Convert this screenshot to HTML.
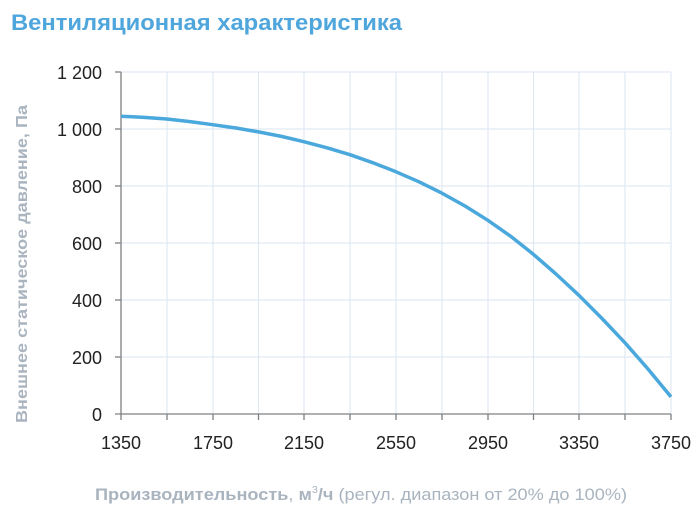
<!DOCTYPE html>
<html><head><meta charset="utf-8"><style>
body{margin:0;background:#fff;width:700px;height:527px;overflow:hidden}
svg{display:block}
</style></head><body>
<svg width="700" height="527" xmlns="http://www.w3.org/2000/svg" font-family="Liberation Sans, DejaVu Sans, sans-serif">
<text x="11" y="30" font-size="22" font-weight="bold" fill="#4ea6dc" textLength="391" lengthAdjust="spacingAndGlyphs">Вентиляционная характеристика</text>
<g stroke="#dbe6f0" stroke-width="1">
<line x1="121" y1="72" x2="671" y2="72"/><line x1="121" y1="129" x2="671" y2="129"/><line x1="121" y1="186" x2="671" y2="186"/><line x1="121" y1="243" x2="671" y2="243"/><line x1="121" y1="300" x2="671" y2="300"/><line x1="121" y1="357" x2="671" y2="357"/>
<line x1="167" y1="72" x2="167" y2="414"/><line x1="213" y1="72" x2="213" y2="414"/><line x1="258.5" y1="72" x2="258.5" y2="414"/><line x1="304" y1="72" x2="304" y2="414"/><line x1="350" y1="72" x2="350" y2="414"/><line x1="396" y1="72" x2="396" y2="414"/><line x1="442" y1="72" x2="442" y2="414"/><line x1="488" y1="72" x2="488" y2="414"/><line x1="533.5" y1="72" x2="533.5" y2="414"/><line x1="579" y1="72" x2="579" y2="414"/><line x1="625" y1="72" x2="625" y2="414"/><line x1="671" y1="72" x2="671" y2="414"/>
</g>
<g stroke="#808080" stroke-width="1.3">
<line x1="121" y1="72" x2="121" y2="414"/><line x1="115" y1="414" x2="671" y2="414"/>
<line x1="115" y1="72" x2="121" y2="72"/><line x1="115" y1="129" x2="121" y2="129"/><line x1="115" y1="186" x2="121" y2="186"/><line x1="115" y1="243" x2="121" y2="243"/><line x1="115" y1="300" x2="121" y2="300"/><line x1="115" y1="357" x2="121" y2="357"/>
<line x1="121" y1="414" x2="121" y2="420"/><line x1="167" y1="414" x2="167" y2="420"/><line x1="213" y1="414" x2="213" y2="420"/><line x1="258.5" y1="414" x2="258.5" y2="420"/><line x1="304" y1="414" x2="304" y2="420"/><line x1="350" y1="414" x2="350" y2="420"/><line x1="396" y1="414" x2="396" y2="420"/><line x1="442" y1="414" x2="442" y2="420"/><line x1="488" y1="414" x2="488" y2="420"/><line x1="533.5" y1="414" x2="533.5" y2="420"/><line x1="579" y1="414" x2="579" y2="420"/><line x1="625" y1="414" x2="625" y2="420"/><line x1="671" y1="414" x2="671" y2="420"/>
</g>
<g font-size="18" fill="#222" text-anchor="end">
<text x="102" y="79">1 200</text><text x="102" y="136">1 000</text><text x="102" y="193">800</text><text x="102" y="250">600</text><text x="102" y="307">400</text><text x="102" y="364">200</text><text x="102" y="421">0</text>
</g>
<g font-size="18" fill="#222" text-anchor="middle">
<text x="121" y="449">1350</text><text x="213" y="449">1750</text><text x="304" y="449">2150</text><text x="396" y="449">2550</text><text x="488" y="449">2950</text><text x="579" y="449">3350</text><text x="671" y="449">3750</text>
</g>
<text transform="translate(27,423) rotate(-90)" font-size="16" font-weight="bold" fill="#a9b4bf" textLength="318" lengthAdjust="spacingAndGlyphs">Внешнее статическое давление, Па</text>
<text x="95" y="500" font-size="17" fill="#a9b4bf" textLength="532" lengthAdjust="spacingAndGlyphs"><tspan font-weight="bold">Производительность</tspan>, <tspan font-weight="bold">м</tspan><tspan font-size="10" dy="-7">3</tspan><tspan dy="7" font-weight="bold">/ч</tspan> (регул. диапазон от 20% до 100%)</text>
<polyline fill="none" stroke="#4aa8dd" stroke-width="3.5" stroke-linejoin="round" points="121,116.2 144,117.4 166.8,119 190,121.6 212.7,124.7 236,128 258.5,131.9 282,136.5 304.3,141.8 327,147.8 350,154.7 373,162.8 396,171.8 419,181.8 441.8,193.1 465,206 487.7,220.2 511,236.5 533.5,254.4 556,274 579.3,295.7 602,318.5 625,342.8 648,369 671,396.9"/>
</svg>
</body></html>
